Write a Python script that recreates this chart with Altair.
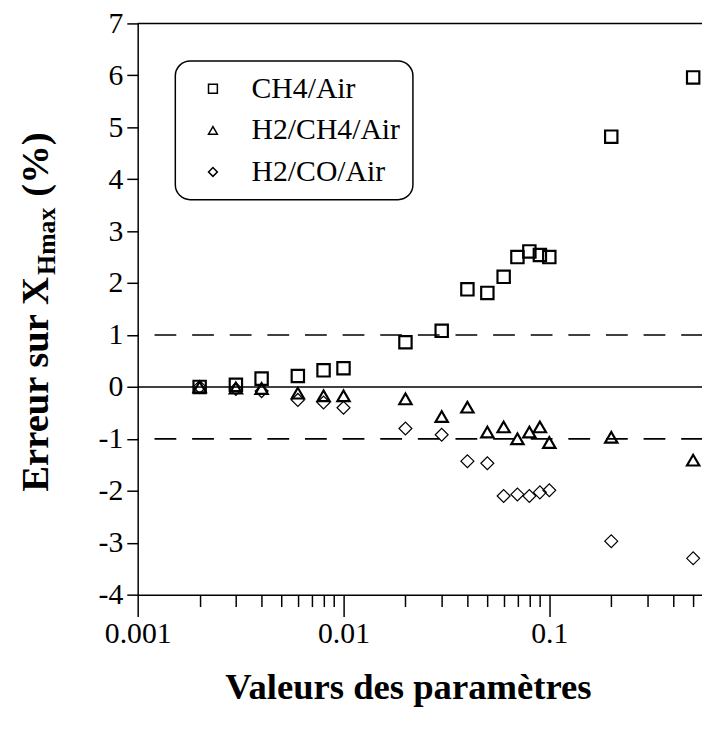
import altair as alt
import pandas as pd

# ---- data ----
x_values = [0.002, 0.003, 0.004, 0.006, 0.008, 0.01, 0.02, 0.03, 0.04, 0.05,
            0.06, 0.07, 0.08, 0.09, 0.1, 0.2, 0.5]
ch4_air = [0.0, 0.04, 0.16, 0.21, 0.32, 0.36, 0.86, 1.08, 1.88, 1.81,
           2.12, 2.50, 2.61, 2.54, 2.50, 4.82, 5.96]
h2_ch4_air = [0.0, -0.02, -0.03, -0.12, -0.17, -0.17, -0.23, -0.57, -0.39, -0.87,
              -0.77, -1.00, -0.87, -0.77, -1.07, -0.97, -1.41]
h2_co_air = [0.0, -0.04, -0.08, -0.25, -0.30, -0.40, -0.80, -0.92, -1.43, -1.47,
             -2.10, -2.07, -2.10, -2.03, -1.99, -2.97, -3.30]
series_names = ["CH4/Air", "H2/CH4/Air", "H2/CO/Air"]

x_major_ticks = [0.001, 0.01, 0.1]
x_minor_ticks = [0.002, 0.003, 0.004, 0.005, 0.006, 0.007, 0.008, 0.009,
                 0.02, 0.03, 0.04, 0.05, 0.06, 0.07, 0.08, 0.09,
                 0.2, 0.3, 0.4, 0.5]
y_ticks = [-4, -3, -2, -1, 0, 1, 2, 3, 4, 5, 6, 7]
dashed_levels = [1, -1]
zero_level = [0]
top_level = [7]

x_title = "Valeurs des paramètres"
y_title_main = "Erreur sur X"
y_title_sub = "Hmax"
y_title_end = "(%)"

# ---- table ----
rows = []
for name, vals in zip(series_names, [ch4_air, h2_ch4_air, h2_co_air]):
    for xv, yv in zip(x_values, vals):
        rows.append({"x": xv, "y": yv, "series": name})
df = pd.DataFrame(rows)

xscale = alt.Scale(type="log", domain=[0.001, 0.552], nice=False)
yscale = alt.Scale(domain=[-4, 7], nice=False, zero=False)
yaxis = alt.Axis(values=y_ticks, tickSize=11, labelPadding=4,
                 labelExpr="'' + datum.value", title=None)

points = alt.Chart(df).mark_point(filled=False, color="black", opacity=1).encode(
    x=alt.X("x:Q", scale=xscale,
            axis=alt.Axis(values=x_major_ticks, tickSize=22, labelPadding=2,
                          labelExpr="'' + datum.value", orient="bottom",
                          title=x_title, titleX=273, titleY=105,
                          titleAlign="center", titleBaseline="alphabetic",
                          labelFlush=False, labelOverlap=False)),
    y=alt.Y("y:Q", scale=yscale, axis=yaxis),
    shape=alt.Shape("series:N",
                    scale=alt.Scale(domain=series_names,
                                    range=["square", "triangle-up", "diamond"]),
                    legend=alt.Legend(title=None, orient="none", legendX=38, legendY=38,
                                      padding=13, cornerRadius=15, strokeColor="black",
                                      fillColor="white", labelFont="Liberation Serif",
                                      labelFontSize=30, labelColor="black",
                                      labelOffset=24, symbolOffset=10, rowPadding=12,
                                      symbolSize=80, symbolStrokeWidth=1.5,
                                      symbolStrokeColor="black", labelLimit=400)),
    size=alt.condition("datum.series === 'H2/CO/Air'", alt.value(170), alt.value(155)),
    strokeWidth=alt.condition("datum.series === 'H2/CO/Air'", alt.value(1.2), alt.value(2.2)),
)

minor = alt.Chart(pd.DataFrame({"x": x_minor_ticks})).mark_point(opacity=0).encode(
    x=alt.X("x:Q", scale=xscale,
            axis=alt.Axis(values=x_minor_ticks, tickSize=12, labels=False,
                          domain=False, title=None, orient="bottom")),
)

dashed = alt.Chart(pd.DataFrame({"y": dashed_levels})).mark_rule(
    color="black", strokeWidth=1.6, strokeDash=[22, 16], strokeDashOffset=1
).encode(y=alt.Y("y:Q", scale=yscale, axis=yaxis))

zero = alt.Chart(pd.DataFrame({"y": zero_level})).mark_rule(
    color="black", strokeWidth=1.6
).encode(y=alt.Y("y:Q", scale=yscale, axis=yaxis))

top = alt.Chart(pd.DataFrame({"y": top_level})).mark_rule(
    color="black", strokeWidth=1.5
).encode(y=alt.Y("y:Q", scale=yscale, axis=yaxis))

dummy = pd.DataFrame({"a": [0]})
t_main = alt.Chart(dummy).mark_text(
    angle=270, align="left", baseline="alphabetic", font="Liberation Serif",
    fontSize=39, fontWeight="bold", color="black"
).encode(x=alt.value(-91), y=alt.value(473), text=alt.value(y_title_main))
t_sub = alt.Chart(dummy).mark_text(
    angle=270, align="left", baseline="alphabetic", font="Liberation Serif",
    fontSize=26, fontWeight="bold", color="black"
).encode(x=alt.value(-84), y=alt.value(254), text=alt.value(y_title_sub))
t_end = alt.Chart(dummy).mark_text(
    angle=270, align="left", baseline="alphabetic", font="Liberation Serif",
    fontSize=39, fontWeight="bold", color="black"
).encode(x=alt.value(-91), y=alt.value(175), text=alt.value(y_title_end))

chart = alt.layer(
    dashed, zero, top, points, minor, t_main, t_sub, t_end
).resolve_axis(x="independent").properties(
    width=570, height=577,
    autosize=alt.AutoSizeParams(type="none"),
    padding={"left": 131, "top": 12, "right": 0, "bottom": 120},
).configure_view(stroke=None).configure_axis(
    domainColor="black", domainWidth=1.5, tickColor="black", tickWidth=1.5,
    labelFont="Liberation Serif", labelFontSize=30, labelColor="black",
    titleFont="Liberation Serif", titleFontSize=37, titleFontWeight="bold",
    titleColor="black", grid=False
).configure_legend(strokeWidth=1.5)

chart.save("out.html", embed_options={"renderer": "svg", "actions": False})
